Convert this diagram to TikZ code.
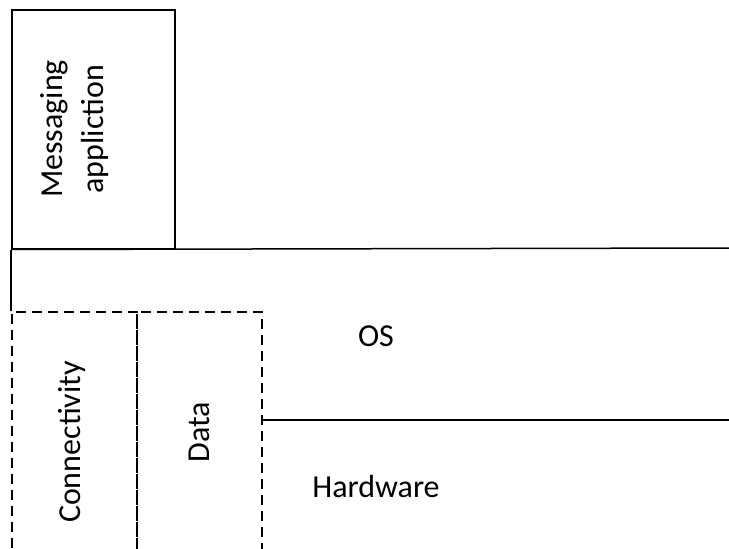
\documentclass[tikz,border=0pt]{standalone}
\usepackage{fontspec}
\setmainfont{Carlito}
\usetikzlibrary{positioning}
\begin{document}
\begin{tikzpicture}[x=1pt,y=-1pt,
layerline/.style={line width=1.5pt},
appbox/.style={draw,line width=1.5pt,minimum width=163pt,minimum height=239pt,anchor=north west,inner sep=0pt},
sidebox/.style={draw,dash pattern=on 10pt off 6pt,line width=1.5pt,minimum width=125pt,minimum height=260pt,anchor=north west,inner sep=0pt},
vlabel/.style={rotate=90,align=center,font=\fontsize{32}{41}\selectfont},
hlabel/.style={font=\fontsize{32}{38}\selectfont}]
\useasboundingbox (0,0) rectangle (729,549);
\clip (0,0) rectangle (729,549);
\node[appbox] (app) at (11,9) {};
\node[sidebox] (conn) at (11,311) {};
\node[sidebox] (data) at (136,311) {};
\coordinate (osR) at (729,248);
\coordinate (hwL) at (261,420);
\coordinate (hwR) at (729,420);
\draw[layerline] (app.south west)--(osR);
\draw[layerline] (app.south west)--(conn.north west);
\draw[layerline] (hwL)--(hwR);
\node[vlabel] (applabel) at (75,129) {Messaging\\appliction};
\node[vlabel] (connlabel) at (72,442) {Connectivity};
\node[vlabel] (datalabel) at (199,432) {Data};
\node[hlabel] (oslabel) at (376,336) {OS};
\node[hlabel] (hwlabel) at (376,487) {Hardware};
\end{tikzpicture}
\end{document}
